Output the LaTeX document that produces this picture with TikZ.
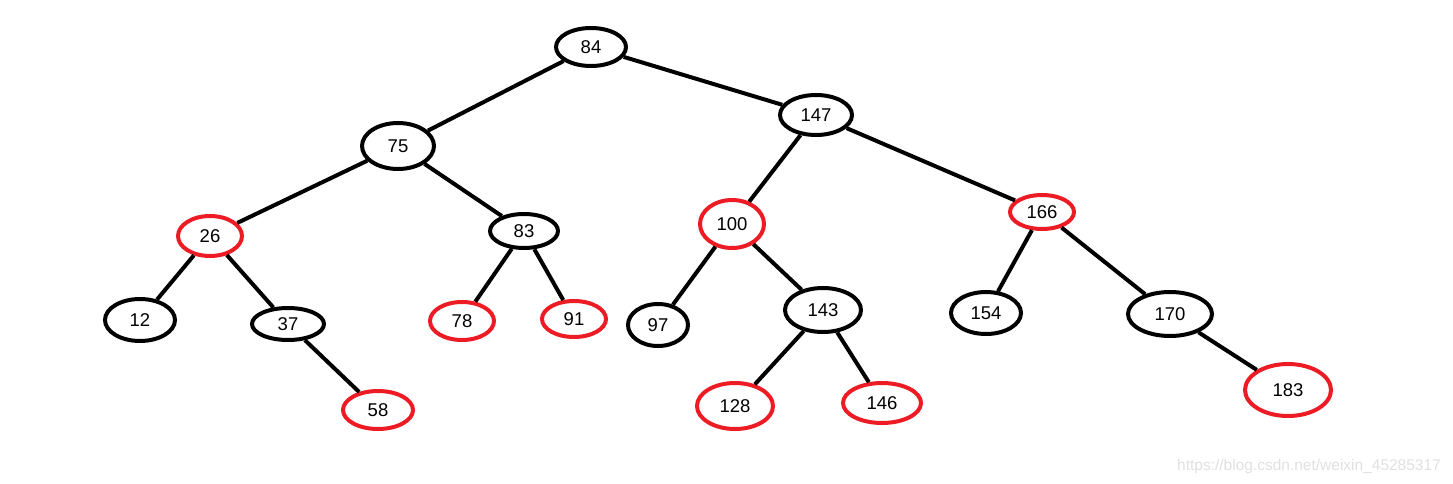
\documentclass[tikz,border=0pt]{standalone}
\usepackage{fontspec}
\setmainfont{Liberation Sans}
\usetikzlibrary{shapes.geometric}
\definecolor{paintred}{RGB}{237,28,36}

\begin{document}
\begin{tikzpicture}[x=1pt, y=-1pt, line width=4pt,
  every node/.style={ellipse, draw, inner sep=0pt, font=\fontsize{18.5}{21}\selectfont},
  blk/.style={draw=black},
  rd/.style={draw=paintred}]
\useasboundingbox (0,0) rectangle (1453,484);
% level 0-1
\node[blk, minimum width=70, minimum height=38] (n84) at (591,47) {84};
\node[blk, minimum width=72, minimum height=46] (n75) at (398,146) {75};
\node[blk, minimum width=72, minimum height=40] (n147) at (816,115) {147};
% level 2
\node[rd, minimum width=64, minimum height=40] (n26) at (210,236) {26};
\node[blk, minimum width=68, minimum height=34] (n83) at (524,231) {83};
\node[rd, minimum width=64, minimum height=48] (n100) at (732,224) {100};
\node[rd, minimum width=64, minimum height=34] (n166) at (1042,212) {166};
% level 3
\node[blk, minimum width=70, minimum height=42] (n12) at (140,320) {12};
\node[blk, minimum width=72, minimum height=32] (n37) at (288,324) {37};
\node[rd, minimum width=64, minimum height=38] (n78) at (462,321) {78};
\node[rd, minimum width=64, minimum height=36] (n91) at (574,319) {91};
\node[blk, minimum width=60, minimum height=42] (n97) at (658,325) {97};
\node[blk, minimum width=76, minimum height=44] (n143) at (823,310) {143};
\node[blk, minimum width=70, minimum height=42] (n154) at (986,313) {154};
\node[blk, minimum width=84, minimum height=44] (n170) at (1170,314) {170};
% level 4
\node[rd, minimum width=70, minimum height=38] (n58) at (378,410) {58};
\node[rd, minimum width=76, minimum height=46] (n128) at (735,406) {128};
\node[rd, minimum width=78, minimum height=40] (n146) at (882,403) {146};
\node[rd, minimum width=86, minimum height=52] (n183) at (1288,390) {183};
% edges
\draw (n84) -- (n75);
\draw (n84) -- (n147);
\draw (n75) -- (n26);
\draw (n75) -- (n83);
\draw (n147) -- (n100);
\draw (n147) -- (n166);
\draw (n26) -- (n12);
\draw (n26) -- (n37);
\draw (n37) -- (n58);
\draw (n83) -- (n78);
\draw (n83) -- (n91);
\draw (n100) -- (n97);
\draw (n100) -- (n143);
\draw (n143) -- (n128);
\draw (n143) -- (n146);
\draw (n166) -- (n154);
\draw (n166) -- (n170);
\draw (n170) -- (n183);
% watermark
\node[draw=none, rectangle, text=black!12, font=\fontsize{15.5}{17}\selectfont] (mark) at (1309,466) {https://blog.csdn.net/weixin\_45285317};
\end{tikzpicture}
\end{document}
